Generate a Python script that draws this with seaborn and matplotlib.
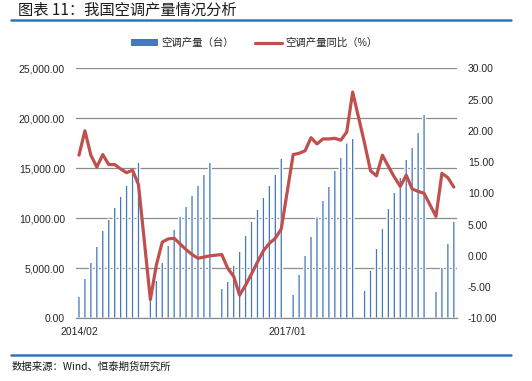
import numpy as np
import pandas as pd
import matplotlib
matplotlib.use("Agg")
import matplotlib.pyplot as plt
from matplotlib.lines import Line2D
from matplotlib.patches import Patch
from matplotlib.ticker import FuncFormatter, FixedLocator
import seaborn as sns

# ---------------- data ----------------
years = [2014, 2015, 2016, 2017, 2018, 2019]
prod_2014 = [2200, 4000, 5600, 7200, 8800, 9900, 11100, 12200, 13300, 14500, 15600]
prod_2015 = [2000, 3800, 5600, 7300, 8900, 10200, 11200, 12300, 13300, 14400, 15600]
prod_2016 = [3000, 3700, 5300, 6700, 8300, 9700, 10900, 12100, 13300, 14400, 16000]
prod_2017 = [2400, 4400, 6300, 8200, 10150, 11800, 13200, 14800, 16100, 17550, 18000]
prod_2018 = [2800, 4800, 7000, 9000, 11000, 12600, 14100, 15900, 17100, 18600, 20400]
prod_2019 = [2700, 5100, 7500, 9700]

yoy_2014 = [16.1, 20.0, 16.1, 14.2, 16.2, 14.6, 14.6, 13.9, 13.3, 13.7, 11.4]
yoy_2015 = [-7.0, -1.5, 2.2, 2.7, 2.8, 1.9, 1.0, 0.2, -0.4, -0.2, 0.0]
yoy_2016 = [0.2, -2.0, -3.3, -6.3, -4.7, -2.9, -1.0, 0.8, 2.0, 2.8, 4.3]
yoy_2017 = [16.2, 16.4, 16.8, 18.9, 17.9, 18.7, 18.7, 18.8, 18.5, 19.8, 26.2]
yoy_2018 = [18.0, 13.6, 12.8, 16.1, 14.3, 12.6, 11.1, 12.9, 10.7, 10.3, 10.0]
yoy_2019 = [6.3, 13.2, 12.5, 11.0]

x_tick_labels = ["2014/02", "2017/01"]
title = "图表 11：我国空调产量情况分析"
legend_bar = "空调产量（台）"
legend_line = "空调产量同比（%）"
source = "数据来源：Wind、恒泰期货研究所"

# build month table (Jan values not reported)
prods = [prod_2014, prod_2015, prod_2016, prod_2017, prod_2018, prod_2019]
yoys = [yoy_2014, yoy_2015, yoy_2016, yoy_2017, yoy_2018, yoy_2019]
months, pvals, yvals = [], [], []
for yr, p, y in zip(years, prods, yoys):
    if yr != 2014:
        months.append(f"{yr}/01"); pvals.append(np.nan); yvals.append(np.nan)
    for i, (pv, yv) in enumerate(zip(p, y)):
        months.append(f"{yr}/{i + 2:02d}"); pvals.append(pv); yvals.append(yv)
df = pd.DataFrame({"month": months, "prod": pvals, "yoy": yvals})
df["idx"] = np.arange(len(df))
df_valid = df.dropna()

# ---------------- style ----------------
sns.set_style("white")
plt.rcParams["font.family"] = ["Liberation Sans", "Noto Sans CJK SC", "DejaVu Sans"]

BLUE = "#4579ba"
RED = "#c0504d"
TXT = "#262626"

fig = plt.figure(figsize=(5.32, 3.81), dpi=100)
ax = fig.add_axes([76 / 532, 1 - 318.3 / 381, 380.8 / 532, 250 / 381])

sns.barplot(data=df_valid, x="month", y="prod", order=months, color=BLUE,
            width=0.45, errorbar=None, saturation=1, ax=ax, zorder=2)
for p in ax.patches:
    p.set_snap(False)
ax.set_xlim(-0.5, len(months) - 0.5)
ax.set_ylim(0, 25000)
ax.set_yticks(np.arange(0, 25001, 5000))
ax.yaxis.set_major_formatter(FuncFormatter(lambda v, p: f"{v:,.2f}"))
ax.grid(axis="y", color="#8c8c8c", linewidth=0.9, zorder=0)
ax.set_axisbelow(True)
ax.set_xlabel(""); ax.set_ylabel("")
for s in ["left", "right", "top"]:
    ax.spines[s].set_visible(False)
ax.spines["bottom"].set_color("#8c8c8c")
ax.spines["bottom"].set_linewidth(0.9)

lab_pos = [months.index("2014/02"), months.index("2017/01")]
ax.xaxis.set_major_locator(FixedLocator(lab_pos))
ax.set_xticklabels(x_tick_labels)
ax.xaxis.set_minor_locator(FixedLocator([p - 0.5 for p in lab_pos]))
ax.tick_params(axis="x", which="major", length=0, pad=6, labelsize=7.5, colors=TXT)
ax.tick_params(axis="x", which="minor", length=3, color="#8c8c8c", width=0.9)
ax.tick_params(axis="y", length=0, pad=8, labelsize=7.5, colors=TXT)

ax2 = ax.twinx()
sns.lineplot(data=df_valid, x="idx", y="yoy", color=RED, linewidth=2.3, ax=ax2)
ax2.set_xlim(-0.5, len(months) - 0.5)
ax2.set_ylim(-10, 30)
ax2.set_yticks(np.arange(-10, 31, 5))
ax2.yaxis.set_major_formatter(FuncFormatter(lambda v, p: f"{v:.2f}"))
ax2.set_xlabel(""); ax2.set_ylabel("")
for s in ax2.spines.values():
    s.set_visible(False)
ax2.tick_params(axis="y", length=0, pad=8, labelsize=7.5, colors=TXT)

# legend
handles = [Patch(facecolor=BLUE, edgecolor="none", label=legend_bar),
           Line2D([0], [0], color=RED, linewidth=2.3, label=legend_line)]
fig.legend(handles=handles, loc="center", bbox_to_anchor=(254 / 532, 1 - 43 / 381),
           ncol=2, frameon=False, fontsize=7.5, handlelength=2.6, handleheight=0.6,
           columnspacing=2.0, handletextpad=0.3, labelcolor=TXT)

# title, rules, source
fig.text(18 / 532, 1 - 10.5 / 381, title, fontsize=11, color="#1a1a1a",
         va="center", ha="left", family=["Noto Sans CJK SC", "DejaVu Sans"])
fig.add_artist(Line2D([11 / 532, 511 / 532], [1 - 20 / 381] * 2, color="#2e75b6",
                      linewidth=1.8, transform=fig.transFigure))
fig.add_artist(Line2D([11 / 532, 511 / 532], [1 - 354.5 / 381] * 2, color="#2e75b6",
                      linewidth=1.8, transform=fig.transFigure))
fig.text(12 / 532, 1 - 367 / 381, source, fontsize=7.5, color="#1a1a1a",
         va="center", ha="left", family=["Noto Sans CJK SC", "DejaVu Sans"])

fig.savefig("out.png", dpi=100)
